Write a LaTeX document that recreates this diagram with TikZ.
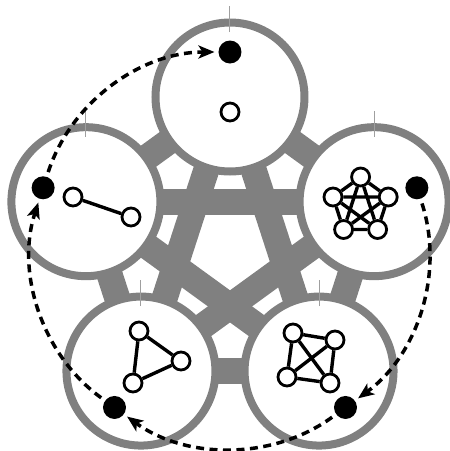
\documentclass[tikz,border=0pt]{standalone}
\usetikzlibrary{arrows.meta}
\begin{document}
\begin{tikzpicture}[x=1pt,y=1pt,
  bigc/.style={circle, draw=gray, line width=8pt, fill=white, minimum size=149pt, inner sep=0pt, outer sep=0pt},
  bar/.style={gray, line width=26pt},
  vtx/.style={circle, draw=black, line width=2.8pt, fill=white, minimum size=18pt, inner sep=0pt},
  tok/.style={circle, fill=black, minimum size=23pt, inner sep=0pt, outer sep=0pt},
  gedge/.style={black, line width=3.4pt},
  move/.style={black, line width=3.5pt, dash pattern=on 8pt off 5.5pt, -{Stealth[length=16pt,width=13pt,inset=4pt]}, shorten <=5pt, shorten >=4pt, bend left=36, looseness=0.94},
  tickline/.style={gray!75, line width=1pt}
]
\useasboundingbox (-230,-202.5) rectangle (220,248.5);
% centres of the big circles
\coordinate (p1) at (90:151.5);
\coordinate (p2) at (162:151.5);
\coordinate (p3) at (18:151.5);
\coordinate (p4) at (234:151.5);
\coordinate (p5) at (306:151.5);
% thick gray bars (complete graph on the five circles)
\draw[bar] (p1) -- (p2);
\draw[bar] (p1) -- (p3);
\draw[bar] (p1) -- (p4);
\draw[bar] (p1) -- (p5);
\draw[bar] (p2) -- (p3);
\draw[bar] (p2) -- (p4);
\draw[bar] (p2) -- (p5);
\draw[bar] (p3) -- (p4);
\draw[bar] (p3) -- (p5);
\draw[bar] (p4) -- (p5);
% big circles
\node[bigc] (C1) at (p1) {};
\node[bigc] (C2) at (p2) {};
\node[bigc] (C3) at (p3) {};
\node[bigc] (C4) at (p4) {};
\node[bigc] (C5) at (p5) {};
% thin ticks on top of the circles
\foreach \p in {p1,p2,p3,p4,p5}{
  \draw[tickline] ([yshift=65pt]\p) -- ([yshift=91pt]\p);
}
% K1
\node[vtx] (a1) at (0,136.5) {};
% K2
\node[vtx] (b1) at (-157,51.5) {};
\node[vtx] (b2) at (-99,31.5) {};
% K3
\node[vtx] (c1) at (-91,-82.5) {};
\node[vtx] (c2) at (-49,-112.5) {};
\node[vtx] (c3) at (-97,-134.5) {};
% K4
\node[vtx] (d1) at (63,-84.5) {};
\node[vtx] (d2) at (105,-91.5) {};
\node[vtx] (d3) at (57,-128.5) {};
\node[vtx] (d4) at (100,-134.5) {};
% K5
\node[vtx] (e1) at (130.6,71.5) {};
\node[vtx] (e2) at (103,51.5) {};
\node[vtx] (e3) at (113.6,19) {};
\node[vtx] (e4) at (147.6,19) {};
\node[vtx] (e5) at (158.2,51.5) {};
% edges
\draw[gedge] (b1) -- (b2);
\draw[gedge] (c1) -- (c2) (c2) -- (c3) (c3) -- (c1);
\draw[gedge] (d1) -- (d2) (d1) -- (d3) (d1) -- (d4) (d2) -- (d3) (d2) -- (d4) (d3) -- (d4);
\draw[gedge] (e1) -- (e2) (e1) -- (e3) (e1) -- (e4) (e1) -- (e5) (e2) -- (e3) (e2) -- (e4) (e2) -- (e5) (e3) -- (e4) (e3) -- (e5) (e4) -- (e5);
% tokens
\node[tok] (t1) at (90:196.5) {};
\node[tok] (t2) at (162:196.5) {};
\node[tok] (t3) at (18:196.5) {};
\node[tok] (t4) at (234:196.5) {};
\node[tok] (t5) at (306:196.5) {};
% moves
\draw[move] (t3) to (t5);
\draw[move] (t5) to (t4);
\draw[move] (t4) to (t2);
\draw[move] (t2) to (t1);
\end{tikzpicture}
\end{document}
